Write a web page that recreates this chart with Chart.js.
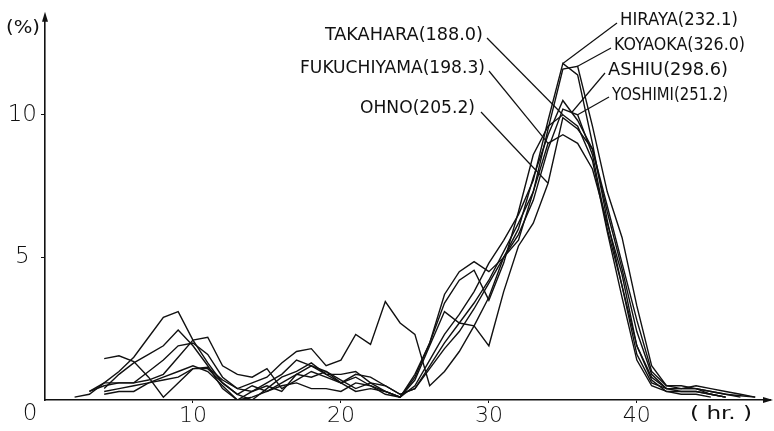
<!DOCTYPE html>
<html>
<head>
<meta charset="utf-8">
<script src="https://cdn.jsdelivr.net/npm/chart.js@4.4.1/dist/chart.umd.min.js"></script>
<style>
  html, body { margin: 0; padding: 0; background: #fff; }
  #wrap { width: 774px; height: 431px; position: relative; }
</style>
</head>
<body>
<div id="wrap"><canvas id="rain"></canvas></div>
<script>
// station names and totals (mm)
const stations = ['HIRAYA', 'KOYAOKA', 'ASHIU', 'YOSHIMI', 'TAKAHARA', 'FUKUCHIYAMA', 'OHNO'];
const totals = ['232.1', '326.0', '298.6', '251.2', '188.0', '198.3', '205.2'];
// first hour of each series
const startHour = [2, 3, 4, 3, 4, 4, 4];

// hourly percentage of total rainfall
const hiraya = [0.1, 0.2, 0.6, 0.6, 0.6, 0.7, 0.9, 1.5, 2.1, 2.2, 1.2, 0.9, 0.8, 1.1, 0.4, 0.7, 1.0, 0.8, 0.6, 0.8, 0.5, 0.3, 0.1, 0.5,
  1.4, 2.3, 3.0, 3.8, 4.8, 5.6, 6.5, 7.7, 9.8, 11.8, 11.4, 9.0, 6.3, 4.0, 1.9, 0.7, 0.3, 0.3, 0.3, 0.2, 0.1];
const koyaoka = [0.3, 0.6, 1.0, 1.5, 2.2, 2.9, 3.1, 2.1, 1.3, 0.6, 0.2, 0.5, 0.3, 0.6, 0.9, 1.2, 1.0, 0.7, 0.4, 0.6, 0.5, 0.2,
  0.4, 1.2, 2.0, 2.7, 3.4, 4.2, 5.2, 6.2, 7.3, 9.5, 11.6, 11.7, 9.6, 7.3, 5.7, 3.3, 1.2, 0.5, 0.4, 0.5, 0.4, 0.3, 0.2, 0.1];
const ashiu = [0.4, 0.9, 1.3, 1.6, 1.9, 2.45, 1.9, 1.2, 0.4, 0.0, 0.3, 0.6, 0.9, 1.4, 1.2, 0.9, 0.6, 0.3, 0.4, 0.3, 0.1,
  0.9, 2.0, 3.7, 4.5, 4.85, 4.5, 5.0, 6.0, 7.8, 9.3, 10.5, 9.8, 8.8, 6.6, 4.6, 2.4, 0.9, 0.4, 0.4, 0.4, 0.3, 0.2, 0.1];
const yoshimi = [0.3, 0.5, 0.6, 0.6, 1.0, 1.4, 1.9, 2.0, 1.6, 0.8, 0.4, 0.3, 0.5, 0.3, 0.9, 0.8, 1.0, 0.6, 0.9, 0.8, 0.5, 0.2,
  0.4, 1.1, 1.8, 2.4, 3.2, 4.1, 5.0, 5.8, 7.0, 8.8, 10.2, 10.0, 8.6, 6.0, 4.0, 1.6, 0.6, 0.4, 0.4, 0.4, 0.2, 0.1];
const takahara = [0.2, 0.3, 0.3, 0.6, 0.8, 1.0, 1.2, 1.0, 0.5, 0.0, 0.1, 0.3, 0.5, 0.6, 0.4, 0.4, 0.3, 0.6, 0.5, 0.2, 0.1,
  0.8, 2.0, 3.4, 4.2, 4.55, 3.5, 4.8, 6.6, 8.6, 9.6, 10.0, 9.6, 8.4, 5.9, 3.6, 1.4, 0.5, 0.3, 0.2, 0.2, 0.1];
const fukuchiyama = [0.3, 0.4, 0.5, 0.6, 0.7, 0.8, 1.1, 1.15, 0.7, 0.4, 0.6, 0.8, 1.3, 1.7, 1.8, 1.2, 1.4, 2.3, 1.95, 3.45, 2.7,
  2.3, 0.5, 1.0, 1.7, 2.6, 3.6, 5.0, 5.6, 7.3, 9.0, 9.3, 9.0, 8.1, 6.2, 4.4, 1.9, 0.8, 0.4, 0.3, 0.3, 0.2, 0.1];
const ohno = [1.45, 1.55, 1.35, 0.8, 0.1, 0.6, 1.1, 1.1, 0.6, 0.2, 0.0, 0.4, 0.8, 1.0, 1.3, 0.9, 0.9, 1.0, 0.6, 0.3, 0.1,
  0.7, 1.9, 3.1, 2.7, 2.6, 1.9, 3.8, 5.4, 6.2, 7.6, 9.9, 9.5, 8.8, 6.8, 4.8, 2.8, 1.0, 0.5, 0.5, 0.4, 0.3, 0.2, 0.15, 0.1];

const seriesValues = [hiraya, koyaoka, ashiu, yoshimi, takahara, fukuchiyama, ohno];
const xTicks = [10, 20, 30, 40];
const yTicks = [5, 10];
// hour on each curve where the name's leader line ends
const leaderHour = [35, 36, 35.6, 36, 35, 34, 34];

// label text boxes (left, right, middle y) and leader start, in pixels
const labelBoxes = [
  [620, 738, 20, 617, 23],
  [614, 745, 45, 611, 48],
  [608, 728, 70, 605, 73],
  [612, 728, 95, 609, 97],
  [325, 483, 35, 487, 38],
  [300, 485, 68, 489, 71],
  [360, 475, 108, 481, 112]
];

const NUM_FONT = '"DejaVu Sans", sans-serif';
const LBL_FONT = '"Liberation Sans Narrow", "DejaVu Sans Condensed", sans-serif';

function valueAt(s, h) {
  const vals = seriesValues[s];
  const i = h - startHour[s];
  const i0 = Math.floor(i), f = i - i0;
  if (f === 0) return vals[i0];
  return vals[i0] * (1 - f) + vals[i0 + 1] * f;
}

const datasets = seriesValues.map((vals, s) => ({
  label: stations[s],
  data: vals.map((v, i) => ({ x: startHour[s] + i, y: v })),
  borderColor: '#111',
  borderWidth: 1.4,
  pointRadius: 0,
  tension: 0,
  fill: false
}));

function fitText(ctx, text, left, right, midY) {
  const w = ctx.measureText(text).width;
  ctx.save();
  ctx.translate(left, midY);
  ctx.scale((right - left) / w, 1);
  ctx.fillText(text, 0, 0);
  ctx.restore();
}

const decorations = {
  id: 'decorations',
  afterDraw(chart) {
    const ctx = chart.ctx;
    const xs = chart.scales.x, ys = chart.scales.y;
    const ox = xs.getPixelForValue(0), oy = ys.getPixelForValue(0);
    const area = chart.chartArea;
    ctx.save();
    ctx.fillStyle = '#111';
    ctx.strokeStyle = '#111';
    // arrow heads
    ctx.beginPath();
    ctx.moveTo(ox, area.top - 6);
    ctx.lineTo(ox - 3, area.top + 4);
    ctx.lineTo(ox + 3, area.top + 4);
    ctx.closePath();
    ctx.fill();
    ctx.beginPath();
    ctx.moveTo(area.right + 3, oy);
    ctx.lineTo(area.right - 7, oy - 3);
    ctx.lineTo(area.right - 7, oy + 3);
    ctx.closePath();
    ctx.fill();

    ctx.textBaseline = 'middle';
    ctx.font = '200 23px ' + NUM_FONT;
    ctx.textAlign = 'center';
    ctx.fillText('0', 30, 414);
    ctx.font = '18px ' + LBL_FONT;
    ctx.textAlign = 'left';
    fitText(ctx, '(%)', 6, 40, 28);
    fitText(ctx, '( hr. )', 690, 752, 414);

    // station names with leader lines
    ctx.lineWidth = 1.2;
    stations.forEach((name, s) => {
      const b = labelBoxes[s];
      fitText(ctx, name + '(' + totals[s] + ')', b[0], b[1], b[2]);
      const h = leaderHour[s];
      ctx.beginPath();
      ctx.moveTo(b[3], b[4]);
      ctx.lineTo(xs.getPixelForValue(h), ys.getPixelForValue(valueAt(s, h)));
      ctx.stroke();
    });
    ctx.restore();
  }
};

new Chart(document.getElementById('rain'), {
  type: 'line',
  data: { datasets: datasets },
  options: {
    responsive: true,
    maintainAspectRatio: false,
    animation: false,
    layout: { padding: { top: 8, right: 4, left: 0, bottom: 0 } },
    plugins: { legend: { display: false }, tooltip: { enabled: false } },
    scales: {
      x: {
        type: 'linear',
        min: 0,
        max: 49,
        afterFit(scale) { scale.height = 31; },
        border: { display: true, color: '#111', width: 1.6 },
        grid: { drawOnChartArea: false, tickLength: 3, color: '#111' },
        ticks: {
          autoSkip: false,
          padding: 0,
          color: '#111',
          font: { family: NUM_FONT, size: 22, weight: 200 },
          callback: v => xTicks.includes(v) ? String(v) : ''
        },
        afterBuildTicks(scale) { scale.ticks = xTicks.map(v => ({ value: v })); }
      },
      y: {
        min: 0,
        max: 13.4,
        afterFit(scale) { scale.width = 45; },
        border: { display: true, color: '#111', width: 1.6 },
        grid: { drawOnChartArea: false, tickLength: 4, color: '#111' },
        ticks: {
          padding: 4,
          crossAlign: 'center',
          color: '#111',
          font: { family: NUM_FONT, size: 23, weight: 200 },
          callback: v => yTicks.includes(v) ? String(v) : ''
        },
        afterBuildTicks(scale) { scale.ticks = yTicks.map(v => ({ value: v })); }
      }
    }
  },
  plugins: [decorations]
});
</script>
</body>
</html>
